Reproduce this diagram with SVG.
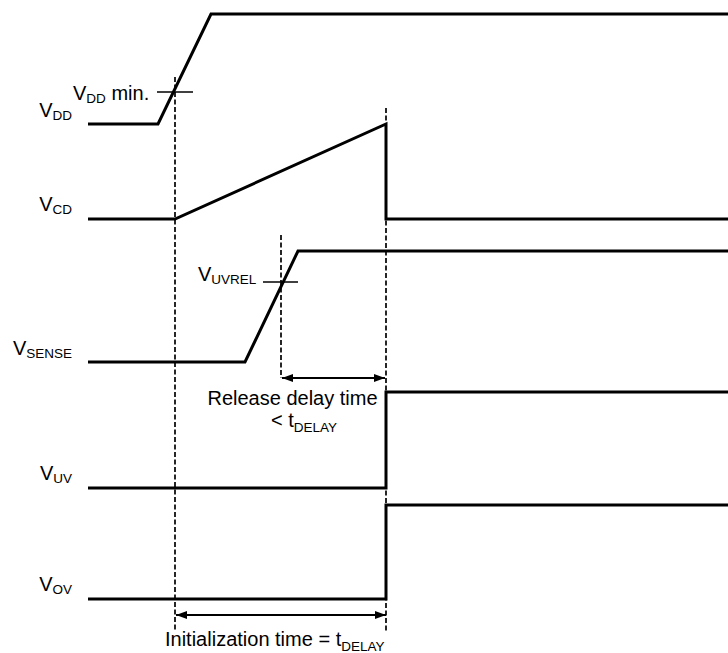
<svg xmlns="http://www.w3.org/2000/svg" width="728" height="653" viewBox="0 0 728 653">
<defs>
<marker id="ah" viewBox="0 0 11 8" refX="11" refY="4" markerWidth="11" markerHeight="8" markerUnits="userSpaceOnUse" orient="auto-start-reverse">
<path d="M0,0 L11,4 L0,8 Z" fill="#000"/>
</marker>
<style>
.w{fill:none;stroke:#000;stroke-width:3;stroke-linejoin:miter}
.d{fill:none;stroke:#000;stroke-width:1.7;stroke-dasharray:5,2.5}
.t{fill:none;stroke:#000;stroke-width:1.3}
.a{fill:none;stroke:#000;stroke-width:1.8}
text{font-family:"Liberation Sans",Arial,sans-serif;font-size:20px;fill:#000}
.s{font-size:13.5px}
</style>
</defs>
<rect width="728" height="653" fill="#fff"/>
<g id="guides">
<line class="d" x1="175" y1="77" x2="175" y2="631"/>
<line class="d" x1="281" y1="235" x2="281" y2="378"/>
<line class="d" x1="386" y1="108" x2="386" y2="631"/>
</g>
<g id="vdd">
<path class="w" d="M88,124 H158 L211,14 H728"/>
<line class="t" x1="157" y1="92" x2="193" y2="92"/>
<text x="72" y="117" text-anchor="end">V<tspan class="s" dy="3">DD</tspan></text>
<text x="73" y="100">V<tspan class="s" dy="3">DD</tspan><tspan dy="-3"> min.</tspan></text>
</g>
<g id="vcd">
<path class="w" d="M88,219 H175 L386,124 V219 H728"/>
<text x="72" y="211" text-anchor="end">V<tspan class="s" dy="3">CD</tspan></text>
</g>
<g id="vsense">
<path class="w" d="M88,362 H245 L298,251 H728"/>
<line class="t" x1="263" y1="282" x2="298" y2="282"/>
<text x="72" y="355" text-anchor="end">V<tspan class="s" dy="3">SENSE</tspan></text>
<text x="198" y="281">V<tspan class="s" dy="3">UVREL</tspan></text>
</g>
<g id="vuv">
<path class="w" d="M88,488 H386 V392 H728"/>
<text x="72" y="480" text-anchor="end">V<tspan class="s" dy="3">UV</tspan></text>
</g>
<g id="vov">
<path class="w" d="M88,599 H386 V505 H728"/>
<text x="72" y="591" text-anchor="end">V<tspan class="s" dy="3">OV</tspan></text>
</g>
<g id="connectors">
<line class="a" x1="282" y1="378" x2="385" y2="378" marker-start="url(#ah)" marker-end="url(#ah)"/>
<line class="a" x1="176" y1="615" x2="386" y2="615" marker-start="url(#ah)" marker-end="url(#ah)"/>
</g>
<g id="labels">
<text x="292.5" y="405" text-anchor="middle">Release delay time</text>
<text x="271" y="427">&lt; t<tspan class="s" dy="5">DELAY</tspan></text>
<text x="165" y="646">Initialization time = t<tspan class="s" dy="5">DELAY</tspan></text>
</g>
</svg>
